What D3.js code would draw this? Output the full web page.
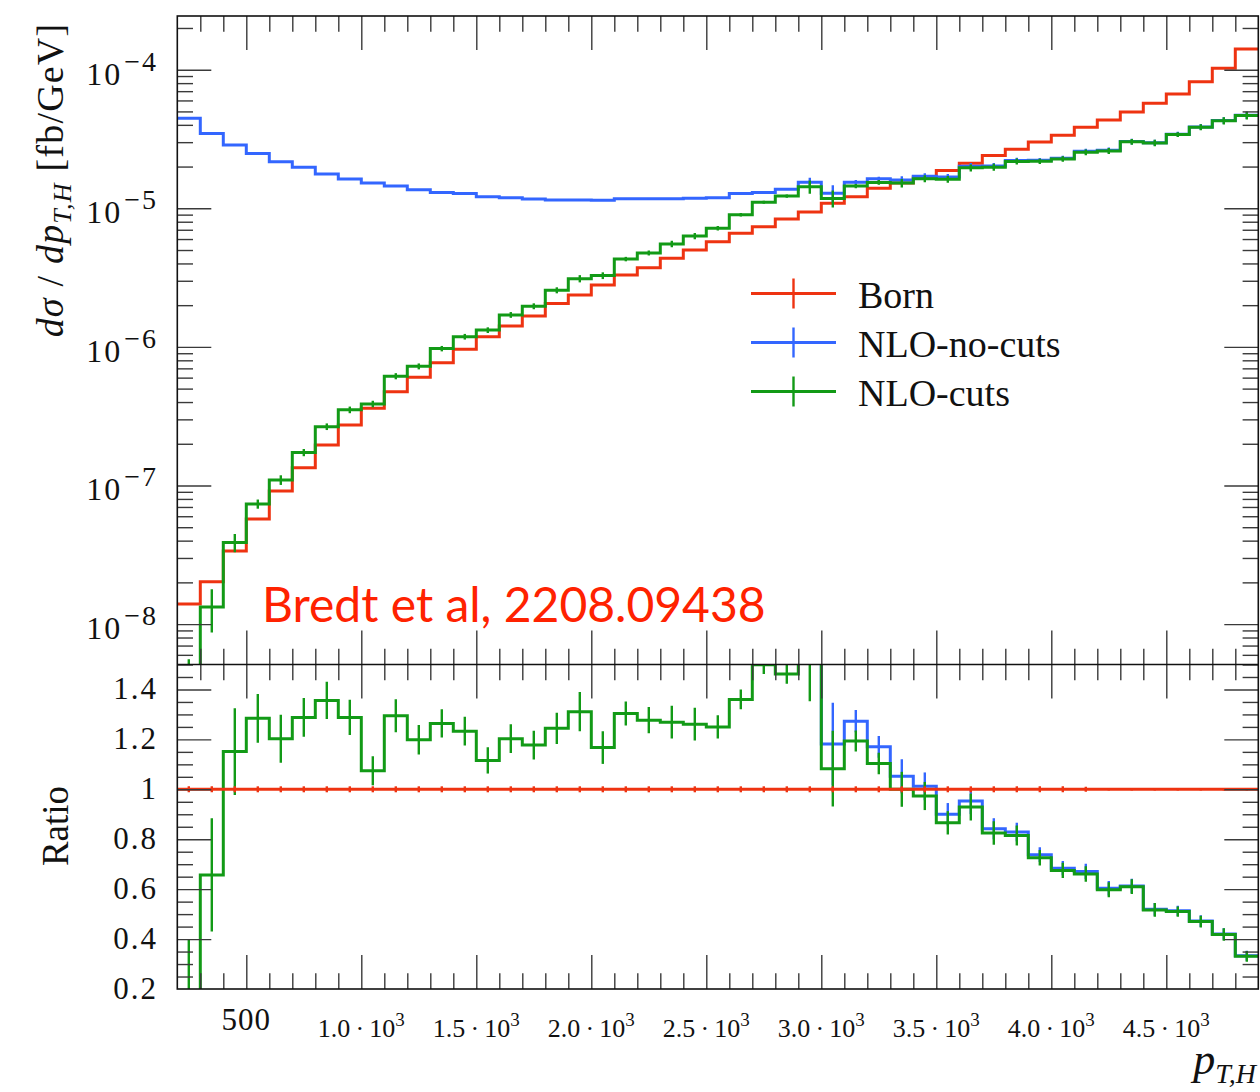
<!DOCTYPE html>
<html><head><meta charset="utf-8">
<script src="https://cdn.jsdelivr.net/npm/d3@7"></script>
<style>body{margin:0;background:#fff}</style>
</head><body>
<svg id="c" width="1260" height="1092" xmlns="http://www.w3.org/2000/svg"></svg>
<script>
// ---------- data ----------
const binEdges = [200,300,400,500,600,700,800,900,1000,1100,1200,1300,1400,1500,1600,1700,1800,1900,2000,2100,2200,2300,2400,2500,2600,2700,2800,2900,3000,3100,3200,3300,3400,3500,3600,3700,3800,3900,4000,4100,4200,4300,4400,4500,4600,4700,4800,4900];

const born = [1.396e-8,2.02e-8,3.37e-8,5.73e-8,9.12e-8,1.343e-7,1.96e-7,2.73e-7,3.61e-7,4.75e-7,
  6.04e-7,7.69e-7,9.61e-7,1.185e-6,1.415e-6,1.67e-6,2.06e-6,2.37e-6,2.80e-6,3.30e-6,
  3.73e-6,4.36e-6,5.00e-6,5.74e-6,6.60e-6,7.37e-6,8.37e-6,9.40e-6,1.087e-5,1.213e-5,
  1.394e-5,1.52e-5,1.68e-5,1.87e-5,2.11e-5,2.40e-5,2.67e-5,3.01e-5,3.36e-5,3.84e-5,
  4.34e-5,4.95e-5,5.72e-5,6.68e-5,8.19e-5,1.023e-4,1.41e-4];

const nloNoCuts = [4.46e-5,3.47e-5,2.86e-5,2.48e-5,2.17e-5,1.98e-5,1.77e-5,1.63e-5,1.52e-5,1.45e-5,
  1.36e-5,1.30e-5,1.28e-5,1.21e-5,1.19e-5,1.166e-5,1.148e-5,1.148e-5,1.145e-5,1.17e-5,
  1.17e-5,1.17e-5,1.18e-5,1.19e-5,1.28e-5,1.30e-5,1.37e-5,1.54e-5,1.284e-5,1.544e-5,
  1.631e-5,1.599e-5,1.700e-5,1.683e-5,2.011e-5,2.021e-5,2.213e-5,2.221e-5,2.298e-5,2.577e-5,
  2.621e-5,3.034e-5,2.969e-5,3.427e-5,3.866e-5,4.297e-5,4.695e-5];

const nloCuts = [2.09e-9,1.327e-8,3.88e-8,7.36e-8,1.097e-7,1.730e-7,2.658e-7,3.516e-7,3.877e-7,6.15e-7,
  7.24e-7,9.72e-7,1.185e-6,1.322e-6,1.702e-6,1.966e-6,2.563e-6,3.107e-6,3.268e-6,4.303e-6,
  4.763e-6,5.533e-6,6.305e-6,7.175e-6,8.976e-6,1.105e-5,1.224e-5,1.429e-5,1.177e-5,1.448e-5,
  1.538e-5,1.52e-5,1.635e-5,1.619e-5,1.960e-5,1.980e-5,2.176e-5,2.185e-5,2.268e-5,2.538e-5,
  2.595e-5,3.020e-5,2.957e-5,3.407e-5,3.849e-5,4.276e-5,4.667e-5];

// relative uncertainties
const bornRelErr = [0.012,0.012,0.012,0.012,0.012,0.012,0.012,0.012,0.012,0.012,
  0.012,0.012,0.012,0.012,0.012,0.012,0.012,0.012,0.012,0.012,
  0.012,0.012,0.012,0.012,0.012,0.012,0.012,0.012,0.012,0.012,
  0.012,0.012,0.012,0.012,0.012,0.012,0.012,0.012,0.012,0.010,
  0.005,0.005,0.005,0.005,0.005,0.005,0.005];
const noCutsRelErr = [0.006,0.006,0.006,0.006,0.006,0.006,0.006,0.006,0.006,0.006,
  0.006,0.006,0.006,0.006,0.006,0.006,0.006,0.006,0.006,0.006,
  0.006,0.006,0.006,0.006,0.006,0.006,0.006,0.08,0.14,0.035,
  0.037,0.065,0.055,0.05,0.055,0.05,0.045,0.04,0.042,0.045,
  0.048,0.047,0.05,0.04,0.05,0.055,0.06];
const cutsRelErr = [1.67,0.345,0.151,0.076,0.080,0.060,0.055,0.055,0.054,0.051,
  0.049,0.045,0.047,0.047,0.048,0.049,0.050,0.060,0.056,0.037,
  0.041,0.052,0.052,0.037,0.029,0.025,0.027,0.11,0.14,0.035,
  0.039,0.07,0.058,0.054,0.058,0.057,0.049,0.043,0.045,0.047,
  0.05,0.049,0.054,0.04,0.05,0.06,0.065];

const seriesNames = ["Born","NLO-no-cuts","NLO-cuts"];
const seriesColors = ["#ee3311","#3366ff","#129a16"];

const xTickValues = [500,1000,1500,2000,2500,3000,3500,4000,4500];
const xTickLabels = ["500","1.0·10^3","1.5·10^3","2.0·10^3","2.5·10^3","3.0·10^3","3.5·10^3","4.0·10^3","4.5·10^3"];
const yTopTickValues = [1e-8,1e-7,1e-6,1e-5,1e-4];
const yTopTickLabels = ["10^−8","10^−7","10^−6","10^−5","10^−4"];
const ratioTickValues = [0.2,0.4,0.6,0.8,1.0,1.2,1.4];
const ratioTickLabels = ["0.2","0.4","0.6","0.8","1","1.2","1.4"];

// ---------- layout ----------
const L = 177.3, R = 1258.3, T = 16, M = 664.5, B = 989;
const SERIF = "'Liberation Serif','DejaVu Serif',serif";
const svg = d3.select("#c");

const x = d3.scaleLinear().domain([binEdges[0], binEdges[binEdges.length-1]]).range([L, R]);
const yTop = d3.scaleLog().domain([5.11e-9, 2.44e-4]).range([M, T]);
const yRat = d3.scaleLinear().domain([0.2, 1.5]).range([B, M]);

const defs = svg.append("defs");
defs.append("clipPath").attr("id","clipTop").append("rect").attr("x",L).attr("y",T).attr("width",R-L).attr("height",M-T);
defs.append("clipPath").attr("id","clipRat").append("rect").attr("x",L).attr("y",M).attr("width",R-L).attr("height",B-M);

const safe = v => Math.max(v, 1e-14);
function stepPts(vals){
  const p = vals.map((v,i)=>[binEdges[i], v]);
  p.push([binEdges[vals.length], vals[vals.length-1]]);
  return p;
}
function drawHist(g, yScale, vals, errs, color, isLog){
  const yy = v => yScale(isLog ? safe(v) : v);
  const line = d3.line().x(d=>x(d[0])).y(d=>yy(d[1])).curve(d3.curveStepAfter);
  g.append("path").attr("d", line(stepPts(vals))).attr("fill","none")
    .attr("stroke", color).attr("stroke-width", 3).attr("stroke-linejoin","miter");
  g.selectAll(null).data(vals).enter().append("line")
    .attr("x1",(d,i)=>x((binEdges[i]+binEdges[i+1])/2))
    .attr("x2",(d,i)=>x((binEdges[i]+binEdges[i+1])/2))
    .attr("y1",(d,i)=>yy(d - errs[i]))
    .attr("y2",(d,i)=>yy(d + errs[i]))
    .attr("stroke", color).attr("stroke-width", 2.4);
}

// ---------- top panel ----------
const gTop = svg.append("g").attr("clip-path","url(#clipTop)");
const topSeries = [born, nloNoCuts, nloCuts];
const topRel = [bornRelErr, noCutsRelErr, cutsRelErr];
topSeries.forEach((s,k)=>{
  drawHist(gTop, yTop, s, s.map((v,i)=>v*topRel[k][i]), seriesColors[k], true);
});

// ---------- ratio panel ----------
const gRat = svg.append("g").attr("clip-path","url(#clipRat)");
[1,2,0].forEach(k=>{
  const s = topSeries[k];
  const r = s.map((v,i)=>v/born[i]);
  drawHist(gRat, yRat, r, r.map((v,i)=>v*topRel[k][i]), seriesColors[k], false);
});

// ---------- ticks ----------
const TICK = "#3a3a3a";
function styleAxis(g){
  g.select(".domain").remove();
  g.selectAll(".tick line").attr("stroke",TICK).attr("stroke-width",1.4);
  g.selectAll(".tick text").remove();
}
const xMinor = x.ticks(47).filter(v => v > binEdges[0] && v < binEdges[binEdges.length-1] && xTickValues.indexOf(v) < 0);
function xTicksAt(yPos, axisFn){
  [[xTickValues,34],[xMinor,15.7]].forEach(([vals,len])=>{
    svg.append("g").attr("transform",`translate(0,${yPos})`)
      .call(axisFn(x).tickValues(vals).tickSize(-len).tickSizeOuter(0)).call(styleAxis);
  });
}
xTicksAt(T, d3.axisTop);
xTicksAt(M, d3.axisBottom);
xTicksAt(M, d3.axisTop);
xTicksAt(B, d3.axisBottom);

const yTopMinor = yTop.ticks().filter(v => yTopTickValues.every(m => Math.abs(m - v)/m > 1e-6));
const yRatMinor = yRat.ticks(26).filter(v => ratioTickValues.every(m => Math.abs(m - v) > 1e-6) && v > 0.2 + 1e-6);
function yTicks(scale, majors, minors){
  [[majors,34],[minors,15.7]].forEach(([vals,len])=>{
    svg.append("g").attr("transform",`translate(${L},0)`)
      .call(d3.axisLeft(scale).tickValues(vals).tickSize(-len).tickSizeOuter(0)).call(styleAxis);
    svg.append("g").attr("transform",`translate(${R},0)`)
      .call(d3.axisRight(scale).tickValues(vals).tickSize(-len).tickSizeOuter(0)).call(styleAxis);
  });
}
yTicks(yTop, yTopTickValues, yTopMinor);
yTicks(yRat, ratioTickValues.filter(v=>v>0.2+1e-6), yRatMinor);

// frame
svg.append("rect").attr("x",L).attr("y",T).attr("width",R-L).attr("height",B-T)
  .attr("fill","none").attr("stroke","#111").attr("stroke-width",1.6);
svg.append("line").attr("x1",L).attr("x2",R).attr("y1",M).attr("y2",M)
  .attr("stroke","#111").attr("stroke-width",1.6);

// ---------- tick labels ----------
yTopTickValues.forEach((v,i)=>{
  const parts = yTopTickLabels[i].split("^");
  const t = svg.append("text").attr("x",158).attr("y",yTop(v)+15)
    .attr("text-anchor","end").style("font-family",SERIF).style("font-size","32px")
    .style("letter-spacing","2px").attr("fill","#111");
  t.append("tspan").text(parts[0]);
  t.append("tspan").attr("dx",2).attr("dy",-14).style("font-size","28px").text(parts[1]);
});
ratioTickValues.forEach((v,i)=>{
  svg.append("text").attr("x",158).attr("y",yRat(v)+10)
    .attr("text-anchor","end").style("font-family",SERIF).style("font-size","31px")
    .style("letter-spacing","2px").attr("fill","#111")
    .text(ratioTickLabels[i]);
});
xTickValues.forEach((v,i)=>{
  const parts = xTickLabels[i].split("^");
  if (parts.length === 1){
    svg.append("text").attr("x",x(v)).attr("y",1030).attr("text-anchor","middle")
      .style("font-family",SERIF).style("font-size","31px").style("letter-spacing","1px")
      .attr("fill","#111").text(parts[0]);
  } else {
    const t = svg.append("text").attr("x",x(v)).attr("y",1037).attr("text-anchor","middle")
      .style("font-family",SERIF).style("font-size","26px").attr("fill","#111");
    t.append("tspan").text(parts[0].replace("·","\u2009·\u2009"));
    t.append("tspan").attr("dy",-11).style("font-size","19px").text(parts[1]);
  }
});

// ---------- axis titles ----------
const yt = svg.append("text").attr("transform","translate(63,180) rotate(-90)")
  .attr("text-anchor","middle").style("font-family",SERIF).style("font-size","38px")
  .style("letter-spacing","1.2px").attr("fill","#111");
yt.append("tspan").style("font-style","italic").text("dσ");
yt.append("tspan").text(" / ");
yt.append("tspan").style("font-style","italic").text("dp");
yt.append("tspan").style("font-style","italic").style("font-size","26px").attr("dy",8).text("T,H");
yt.append("tspan").attr("dy",-8).text(" [fb/GeV]");

svg.append("text").attr("transform","translate(68,826) rotate(-90)")
  .attr("text-anchor","middle").style("font-family",SERIF).style("font-size","37px").attr("fill","#111")
  .text("Ratio");

const xt = svg.append("text").attr("x",1256).attr("y",1074).attr("text-anchor","end")
  .style("font-family",SERIF).style("font-size","44px").attr("fill","#111");
xt.append("tspan").style("font-style","italic").text("p");
xt.append("tspan").style("font-style","italic").style("font-size","28px").attr("dy",9).text("T,H");

// ---------- legend ----------
const legY = [293.5, 342.5, 391.5];
seriesNames.forEach((n,k)=>{
  const g = svg.append("g");
  g.append("line").attr("x1",751).attr("x2",836).attr("y1",legY[k]).attr("y2",legY[k])
    .attr("stroke",seriesColors[k]).attr("stroke-width",3);
  g.append("line").attr("x1",793.5).attr("x2",793.5).attr("y1",legY[k]-15).attr("y2",legY[k]+15)
    .attr("stroke",seriesColors[k]).attr("stroke-width",2.4);
  g.append("text").attr("x",858).attr("y",legY[k]+14).style("font-family",SERIF)
    .style("font-size","38px").attr("fill","#111").text(n);
});

// ---------- annotation ----------
svg.append("text").attr("x",262).attr("y",622).style("font-family","Lato,'Liberation Sans',sans-serif")
  .style("font-size","48px").attr("fill","#ff2200").text("Bredt et al, 2208.09438");
</script>
</body></html>
